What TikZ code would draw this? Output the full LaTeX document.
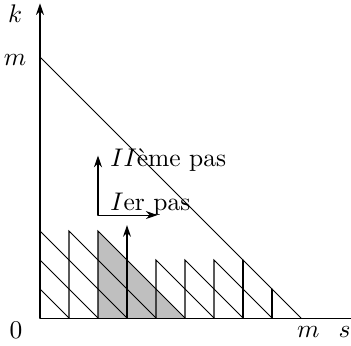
\documentclass[tikz,border=0pt]{standalone}
\usepackage{amsmath,amssymb}
\usepackage{tikz}
\usetikzlibrary{arrows.meta}
\usepackage{xcolor}

\begin{document}
\begin{tikzpicture}[x=0.4cm,y=0.4cm,>={Stealth[length=1.6mm,width=1.1mm]},line cap=round]
\useasboundingbox (-1.379,-0.931) rectangle (10.724,10.966);
\fill[gray!50] (2,0) -- (2,3) -- (5,0) -- cycle;
\draw (0,0) -- (10.8,0);
\draw[->] (0,0) -- (0,10.85);
\draw (0,9) -- (9,0);
\draw (0,3) -- (3,0);
\draw (0,2) -- (2,0);
\draw (0,1) -- (1,0);
\draw (1,0) -- (1,3) -- (4,0);
\draw (2,0) -- (2,3) -- (5,0);
\foreach \i in {4,5,6}
  \draw (\i,0) -- (\i,2) -- (\i+2,0);
\draw (7,0) -- (7,2);
\draw (8,0) -- (8,1);
\draw[->] (3,0) -- (3,3.2);
\draw[->] (2,3.55) -- (2,5.6);
\draw[->] (2,3.55) -- (4.05,3.55);
\node[anchor=base west] (pas2) at (2.12,5.22) {$II$\`eme pas};
\node[anchor=base west] (pas1) at (2.12,3.72) {$I$er pas};
\node[anchor=base] (klab) at (-0.86,10.18) {$k$};
\node[anchor=base] (mlab) at (-0.86,8.72) {$m$};
\node[anchor=base] (zero) at (-0.83,-0.72) {$0$};
\node[anchor=base] (mbot) at (9.25,-0.68) {$m$};
\node[anchor=base] (slab) at (10.5,-0.68) {$s$};
\end{tikzpicture}
\end{document}
